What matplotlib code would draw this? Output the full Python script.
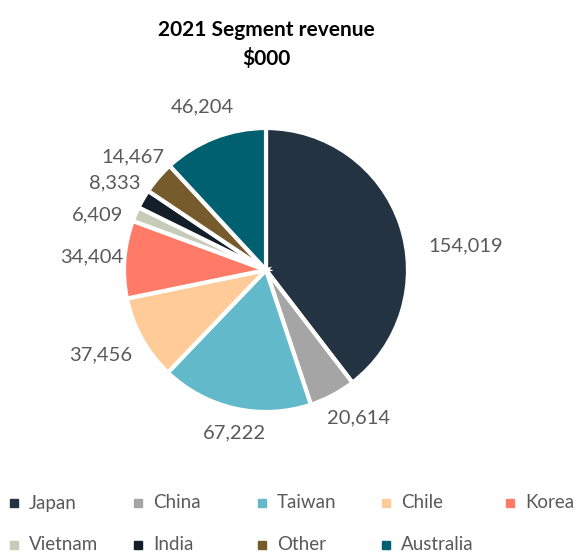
import numpy as np
import matplotlib.pyplot as plt

# Segment revenue data ($000)
segments = ["Japan", "China", "Taiwan", "Chile", "Korea",
            "Vietnam", "India", "Other", "Australia"]
revenue = [154019, 20614, 67222, 37456, 34404, 6409, 8333, 14467, 46204]
colors = ["#243342", "#a5a5a5", "#62b9c9", "#ffcc99", "#ff7b68",
          "#c7ccb8", "#141e28", "#765c2d", "#00606f"]

plt.rcParams['font.family'] = ['Lato', 'DejaVu Sans']
label_color = "#595959"

fig = plt.figure(figsize=(5.79, 5.52), dpi=100)

# pie axes: centre ~ (266, 270) px, radius ~ 142 px
cx, cy, r = 266 / 579, 1 - 270 / 552, 142
ax = fig.add_axes([cx - r / 579, cy - r / 552, 2 * r / 579, 2 * r / 552])
wedges, texts = ax.pie(
    revenue, colors=colors, startangle=90, counterclock=False,
    labels=[f"{v:,}" for v in revenue], labeldistance=1.23,
    wedgeprops=dict(edgecolor="white", linewidth=3),
    textprops=dict(color=label_color, fontsize=14.5),
)
ax.set_xlim(-1, 1)
ax.set_ylim(-1, 1)
ax.set_aspect("equal")
for t in texts:
    t.set_horizontalalignment("center")
    t.set_verticalalignment("center")
    t.set_clip_on(False)


def place(t, deg, dist):
    a = np.deg2rad(deg)
    t.set_position((dist * np.cos(a), dist * np.sin(a)))


place(texts[0], 7, 1.42)     # Japan
place(texts[1], -58, 1.23)   # China
place(texts[2], -101, 1.17)  # Taiwan
place(texts[3], 207, 1.31)   # Chile
place(texts[5], 162, 1.25)   # Vietnam

fig.text(266 / 579, 1 - 30 / 552, "2021 Segment revenue", ha="center", va="center",
         fontsize=15, fontweight="bold", color="black")
fig.text(266 / 579, 1 - 58 / 552, r"\$000", ha="center", va="center",
         fontsize=15, fontweight="bold", color="black")

# legend laid out in a fixed grid like the original
lax = fig.add_axes([0, 0, 1, 1])
lax.set_xlim(0, 579)
lax.set_ylim(552, 0)
lax.axis("off")
for i, (name, c) in enumerate(zip(segments, colors)):
    col, row = i % 5, i // 5
    x = 14 + col * 124
    y = 503 + row * 42
    lax.plot(x, y, marker="s", markersize=6, color=c, linestyle="none")
    lax.text(x + 15, y, name, ha="left", va="center", fontsize=13.5, color=label_color)

fig.savefig("out.png", dpi=100)
